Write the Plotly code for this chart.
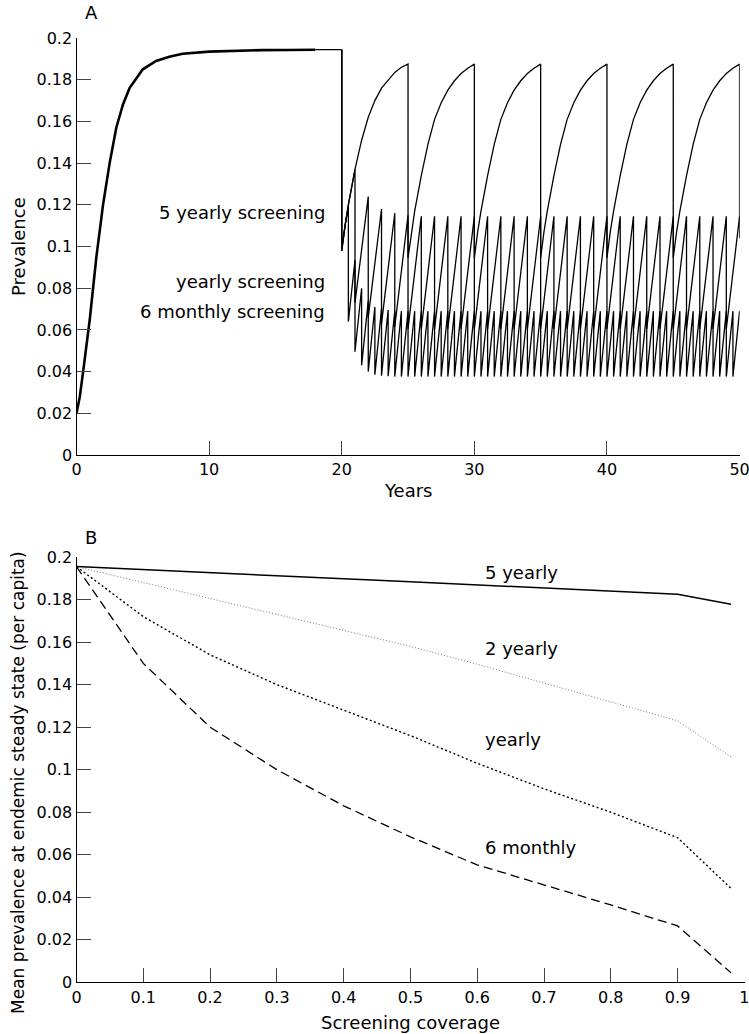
import plotly.graph_objects as go

# ---------------- Panel A data ----------------
pre_years = [0, 0.25, 0.5, 0.75, 1, 1.5, 2, 2.5, 3, 3.5, 4, 5, 6, 7, 8, 10, 12, 14, 16, 18]
pre_prev = [0.020, 0.028, 0.040, 0.052, 0.065, 0.095, 0.120, 0.140, 0.157, 0.168, 0.176,
            0.185, 0.189, 0.191, 0.1925, 0.1935, 0.194, 0.1942, 0.1943, 0.1944]
plateau_years = [18, 20]
plateau_prev = [0.1944, 0.1944]

# shape of the first rise after the first screening round (t = 20)
first_offsets = [0, 0.25, 0.5, 1, 1.5, 2, 2.5, 3, 3.5, 4, 4.5, 5]
first_prev = [0.098, 0.110, 0.120, 0.137, 0.151, 0.162, 0.170, 0.176, 0.180, 0.1835, 0.186, 0.1875]
# shape of later 5-yearly cycles
cycle_prev = [0.0945, 0.107, 0.117, 0.134, 0.149, 0.161, 0.169, 0.175, 0.1795, 0.183, 0.1855, 0.1875]

five_times = [20, 25, 30, 35, 40, 45]
five_end_year = 50
five_end_prev = 0.104

yearly_times = list(range(20, 50))
yearly_troughs = [0.098, 0.073, 0.066, 0.063, 0.0615] + [0.0605] * 25
yearly_peaks = [0.137, 0.124, 0.118, 0.116, 0.115] + [0.1145] * 25

sixm_times = [20 + 0.5 * i for i in range(60)]
sixm_troughs = [0.098, 0.064, 0.0495, 0.043, 0.040, 0.0385, 0.038, 0.0378] + [0.0376] * 52
sixm_peaks = [0.119, 0.0935, 0.080, 0.074, 0.071, 0.0700, 0.0695] + [0.069] * 53

labels_A = ["5 yearly screening", "yearly screening", "6 monthly screening"]
labels_A_y = [0.1165, 0.083, 0.0686]

# ---------------- Panel B data ----------------
coverage = [0, 0.1, 0.2, 0.3, 0.4, 0.5, 0.6, 0.7, 0.8, 0.9, 0.98]
mean_5yearly = [0.1955, 0.1940, 0.1926, 0.1912, 0.1898, 0.1884, 0.1870, 0.1855, 0.1840, 0.1825, 0.1778]
mean_2yearly = [0.1955, 0.1880, 0.1805, 0.1730, 0.1655, 0.1580, 0.1496, 0.1408, 0.1320, 0.1230, 0.1060]
mean_yearly = [0.1955, 0.1720, 0.1540, 0.1400, 0.1280, 0.1160, 0.1030, 0.0910, 0.0800, 0.0680, 0.0442]
mean_6monthly = [0.1955, 0.1500, 0.1200, 0.1000, 0.0830, 0.0684, 0.0552, 0.0458, 0.0364, 0.0265, 0.0045]
labels_B = ["5 yearly", "2 yearly", "yearly", "6 monthly"]
labels_B_y = [0.1925, 0.1568, 0.114, 0.0632]

ticks_A_x = [0, 10, 20, 30, 40, 50]
ticks_B_x = [0, 0.1, 0.2, 0.3, 0.4, 0.5, 0.6, 0.7, 0.8, 0.9, 1]
ticks_y = [0, 0.02, 0.04, 0.06, 0.08, 0.1, 0.12, 0.14, 0.16, 0.18, 0.2]
ticks_y_text = ["0", "0.02", "0.04", "0.06", "0.08", "0.1", "0.12", "0.14", "0.16", "0.18", "0.2"]


def build_sawtooth(times, troughs, peaks, period):
    xs = [20]
    ys = [plateau_prev[-1]]
    for i, t in enumerate(times):
        xs.append(t)
        ys.append(troughs[i])
        if i == 0:
            for off, val in zip(first_offsets[1:], first_prev[1:]):
                if off < period:
                    xs.append(t + off)
                    ys.append(val)
        xs.append(t + period)
        ys.append(peaks[i])
    return xs, ys


def build_five():
    xs = [20]
    ys = [plateau_prev[-1]]
    for i, t in enumerate(five_times):
        shape = first_prev if i == 0 else cycle_prev
        for off, val in zip(first_offsets, shape):
            xs.append(t + off)
            ys.append(val)
    xs.append(five_end_year)
    ys.append(five_end_prev)
    return xs, ys


FONT = "DejaVu Sans"
fig = go.Figure()

# Panel A
fig.add_trace(go.Scatter(x=pre_years, y=pre_prev, mode="lines",
                         line=dict(color="black", width=2.6), xaxis="x", yaxis="y"))
fig.add_trace(go.Scatter(x=plateau_years, y=plateau_prev, mode="lines",
                         line=dict(color="black", width=1.3), xaxis="x", yaxis="y"))
fx, fy = build_five()
fig.add_trace(go.Scatter(x=fx, y=fy, mode="lines", line=dict(color="black", width=1.3),
                         xaxis="x", yaxis="y"))
yx, yy = build_sawtooth(yearly_times, yearly_troughs, yearly_peaks, 1.0)
fig.add_trace(go.Scatter(x=yx, y=yy, mode="lines", line=dict(color="black", width=1.3),
                         xaxis="x", yaxis="y"))
sx, sy = build_sawtooth(sixm_times, sixm_troughs, sixm_peaks, 0.5)
fig.add_trace(go.Scatter(x=sx, y=sy, mode="lines", line=dict(color="black", width=1.3),
                         xaxis="x", yaxis="y"))

# Panel B
fig.add_trace(go.Scatter(x=coverage, y=mean_5yearly, mode="lines",
                         line=dict(color="black", width=1.5), xaxis="x2", yaxis="y2"))
fig.add_trace(go.Scatter(x=coverage, y=mean_2yearly, mode="lines",
                         line=dict(color="#777777", width=1, dash="1px,2px"), xaxis="x2", yaxis="y2"))
fig.add_trace(go.Scatter(x=coverage, y=mean_yearly, mode="lines",
                         line=dict(color="black", width=1.4, dash="2px,2.5px"), xaxis="x2", yaxis="y2"))
fig.add_trace(go.Scatter(x=coverage, y=mean_6monthly, mode="lines",
                         line=dict(color="black", width=1.3, dash="9px,5px"), xaxis="x2", yaxis="y2"))

axis_common = dict(showgrid=False, zeroline=False, showline=True, linecolor="black", linewidth=1.3,
                   ticks="inside", ticklen=14, tickwidth=1, tickcolor="#444444", automargin=False,
                   ticklabeloverflow="allow",
                   tickfont=dict(family=FONT, size=16, color="black"))

W, H = 749, 1034
fig.update_layout(
    template="none",
    width=W, height=H, margin=dict(l=0, r=0, t=0, b=0, pad=0),
    paper_bgcolor="white", plot_bgcolor="white", showlegend=False,
    xaxis=dict(domain=[76.5 / W, 739.7 / W], range=[0, 50.01], tickvals=ticks_A_x,
               ticktext=[str(v) for v in ticks_A_x], anchor="y", **axis_common),
    yaxis=dict(domain=[(H - 455) / H, (H - 38) / H], range=[0, 0.20002], tickvals=ticks_y,
               ticktext=ticks_y_text, anchor="x", **axis_common),
    xaxis2=dict(domain=[76.5 / W, 744.5 / W], range=[0, 1.0002], tickvals=ticks_B_x,
                ticktext=[str(v) for v in ticks_B_x], anchor="y2", **axis_common),
    yaxis2=dict(domain=[(H - 982.3) / H, (H - 557) / H], range=[0, 0.20002], tickvals=ticks_y,
                ticktext=ticks_y_text, anchor="x2", **axis_common),
)

ann = []
for txt, yv in zip(labels_A, labels_A_y):
    ann.append(dict(x=18.9, y=yv, xref="x", yref="y", text=txt, showarrow=False,
                    xanchor="right", yanchor="middle", font=dict(family=FONT, size=18, color="black")))
for txt, yv in zip(labels_B, labels_B_y):
    ann.append(dict(x=0.609, y=yv, xref="x2", yref="y2", text=txt, showarrow=False,
                    xanchor="left", yanchor="middle", font=dict(family=FONT, size=18, color="black")))
ann += [
    dict(x=83 / W, y=1 - 12 / H, xref="paper", yref="paper", text="A", showarrow=False,
         xanchor="left", yanchor="middle", font=dict(family=FONT, size=18, color="black")),
    dict(x=83 / W, y=1 - 537 / H, xref="paper", yref="paper", text="B", showarrow=False,
         xanchor="left", yanchor="middle", font=dict(family=FONT, size=18, color="black")),
    dict(x=408 / W, y=1 - 490 / H, xref="paper", yref="paper", text="Years", showarrow=False,
         xanchor="center", yanchor="middle", font=dict(family=FONT, size=18, color="black")),
    dict(x=410 / W, y=1 - 1022 / H, xref="paper", yref="paper", text="Screening coverage",
         showarrow=False, xanchor="center", yanchor="middle",
         font=dict(family=FONT, size=18, color="black")),
    dict(x=18 / W, y=1 - 247 / H, xref="paper", yref="paper", text="Prevalence", showarrow=False,
         textangle=-90, xanchor="center", yanchor="middle",
         font=dict(family=FONT, size=18, color="black")),
    dict(x=18 / W, y=1 - 783 / H, xref="paper", yref="paper",
         text="Mean prevalence at endemic steady state (per capita)", showarrow=False,
         textangle=-90, xanchor="center", yanchor="middle",
         font=dict(family=FONT, size=17, color="black")),
]
fig.update_layout(annotations=ann)

fig.write_html("out.html", config={"displayModeBar": False},
               post_script="document.body.style.margin='0';document.body.style.overflow='hidden';")
